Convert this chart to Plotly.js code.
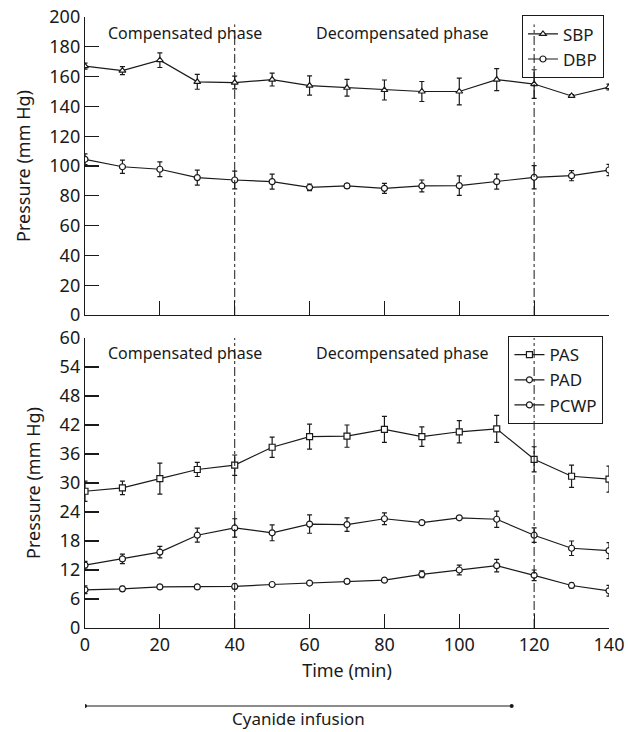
<!DOCTYPE html>
<html>
<head>
<meta charset="utf-8">
<script src="https://cdn.plot.ly/plotly-3.0.1.min.js"></script>
<style>html,body{margin:0;padding:0;background:#fff;}#chart{width:628px;height:732px;}</style>
</head>
<body>
<div id="chart"></div>
<script>
var time = [0, 10, 20, 30, 40, 50, 60, 70, 80, 90, 100, 110, 120, 130, 140];
var sbp = [167, 164, 171, 156.5, 156, 158, 154, 152.5, 151, 150, 150, 158, 155, 147, 153];
var sbpErr = [2, 2.7, 4.9, 5, 4.3, 4.3, 6.5, 5.6, 6.7, 6.7, 9, 7.4, 9.6, 1, 2];
var dbp = [104.5, 99.5, 97.8, 92.2, 90.6, 89.5, 85.7, 86.6, 85, 86.6, 86.8, 89.5, 92.4, 93.5, 97.3];
var dbpErr = [3.6, 4.5, 5, 5, 6, 5, 2.2, 1.5, 3.4, 4, 6.5, 5, 7.8, 3.4, 3.8];
var pas = [28.3, 29.0, 30.9, 32.8, 33.7, 37.4, 39.6, 39.7, 41.1, 39.6, 40.6, 41.2, 34.9, 31.4, 30.8];
var pasErr = [2.1, 1.4, 3.2, 1.45, 2.1, 2.1, 2.6, 2.3, 2.7, 2, 2.3, 2.8, 2.6, 2.3, 2.7];
var pad = [13.0, 14.3, 15.7, 19.2, 20.7, 19.7, 21.5, 21.4, 22.6, 21.8, 22.8, 22.5, 19.2, 16.5, 16.0];
var padErr = [0.8, 1.0, 1.2, 1.45, 1.9, 1.65, 1.9, 1.4, 1.2, 0.3, 0.4, 1.7, 1.5, 1.5, 1.65];
var pcwp = [7.9, 8.1, 8.5, 8.5, 8.6, 9.0, 9.3, 9.65, 9.9, 11.1, 12.0, 12.9, 10.9, 8.8, 7.7];
var pcwpErr = [0.8, 0.5, 0.4, 0.4, 0.5, 0.3, 0.3, 0.3, 0.3, 0.7, 1.0, 1.3, 1.1, 0.5, 1.1];
var topTicks = [0, 20, 40, 60, 80, 100, 120, 140, 160, 180, 200];
var bottomTicks = [0, 6, 12, 18, 24, 30, 36, 42, 48, 54, 60];
var timeTicks = [0, 20, 40, 60, 80, 100, 120, 140];
var phaseBounds = [40, 120];
var infusion = [0, 114];
var phaseLabels = ["Compensated phase", "Decompensated phase"];
var phaseLabelX = [26.7, 84.7];

var FONT = "Noto Sans, sans-serif";
var INK = "#1a1a1a";

function tr(name, y, err, sym, xa, ya, leg) {
  return {
    x: time, y: y, name: name, type: "scatter", mode: "lines+markers",
    xaxis: xa, yaxis: ya, legend: leg,
    line: {color: INK, width: 1.2},
    marker: {symbol: sym, size: 6, color: "white", line: {color: INK, width: 1.2}},
    error_y: {type: "data", array: err, visible: true, color: INK, thickness: 1.2, width: 2.5}
  };
}

var data = [
  tr("SBP", sbp, sbpErr, "triangle-up", "x", "y", "legend"),
  tr("DBP", dbp, dbpErr, "circle", "x", "y", "legend"),
  tr("PAS", pas, pasErr, "square", "x2", "y2", "legend2"),
  tr("PAD", pad, padErr, "circle", "x2", "y2", "legend2"),
  tr("PCWP", pcwp, pcwpErr, "circle", "x2", "y2", "legend2")
];

var axisCommon = {
  showgrid: false, zeroline: false, showline: true, linecolor: INK, linewidth: 1.2,
  ticks: "inside", ticklen: 14, tickwidth: 1.2, tickcolor: INK,
  tickfont: {family: FONT, size: 18, color: INK}
};

function ax(extra) { return Object.assign({}, axisCommon, extra); }

var shapes = [];
phaseBounds.forEach(function (b) {
  shapes.push({type: "line", xref: "x", yref: "y", x0: b, x1: b, y0: 0, y1: 195,
    line: {color: INK, width: 1, dash: "dashdot"}});
  shapes.push({type: "line", xref: "x2", yref: "y2", x0: b, x1: b, y0: 0, y1: 60,
    line: {color: INK, width: 1, dash: "dashdot"}});
});
shapes.push({type: "line", xref: "x2", yref: "paper", x0: infusion[0], x1: infusion[1], y0: -0.1277, y1: -0.1277,
  line: {color: INK, width: 1.2}});
infusion.forEach(function (v) {
  shapes.push({type: "circle", xref: "x2", yref: "paper", xsizemode: "pixel", ysizemode: "pixel",
    xanchor: v, yanchor: -0.1277, x0: -2, x1: 2, y0: -2, y1: 2,
    fillcolor: INK, line: {color: INK, width: 0}});
});

var annotations = [];
phaseLabels.forEach(function (t, i) {
  annotations.push({text: t, x: phaseLabelX[i], y: 189, xref: "x", yref: "y", showarrow: false,
    font: {family: FONT, size: 16, color: INK}});
  annotations.push({text: t, x: phaseLabelX[i], y: 56.9, xref: "x2", yref: "y2", showarrow: false,
    font: {family: FONT, size: 16, color: INK}});
});
annotations.push({text: "Cyanide infusion", x: (infusion[0] + infusion[1]) / 2, y: -0.1686, xref: "x2", yref: "paper",
  yanchor: "bottom", borderpad: 0, showarrow: false, font: {family: FONT, size: 17, color: INK}});

var legendCommon = {
  bgcolor: "rgba(0,0,0,0)", bordercolor: INK, borderwidth: 1.2,
  font: {family: FONT, size: 17, color: INK}, xanchor: "right", yanchor: "top",
  itemwidth: 30, tracegroupgap: 0
};

var layout = {
  width: 628, height: 732,
  margin: {l: 85, r: 19, t: 17, b: 104},
  paper_bgcolor: "white", plot_bgcolor: "white",
  showlegend: true,
  xaxis: ax({domain: [0, 1], range: [0, 140], tickvals: timeTicks, showticklabels: false, anchor: "y"}),
  yaxis: ax({domain: [0.5123, 1], range: [0, 200], tickvals: topTicks, anchor: "x",
    title: {text: "Pressure (mm Hg)", font: {family: FONT, size: 18, color: INK}, standoff: 14}}),
  xaxis2: ax({domain: [0, 1], range: [0, 140], tickvals: timeTicks, anchor: "y2",
    title: {text: "Time (min)", font: {family: FONT, size: 18, color: INK}, standoff: 9}}),
  yaxis2: ax({domain: [0, 0.4746], range: [0, 60], tickvals: bottomTicks, anchor: "x2",
    title: {text: "Pressure (mm Hg)", font: {family: FONT, size: 18, color: INK}, standoff: 14}}),
  legend: Object.assign({}, legendCommon, {x: 0.99, y: 1.003}),
  legend2: Object.assign({}, legendCommon, {x: 0.989, y: 0.478}),
  shapes: shapes,
  annotations: annotations
};

Plotly.newPlot("chart", data, layout, {displayModeBar: false, staticPlot: true});
</script>
</body>
</html>
